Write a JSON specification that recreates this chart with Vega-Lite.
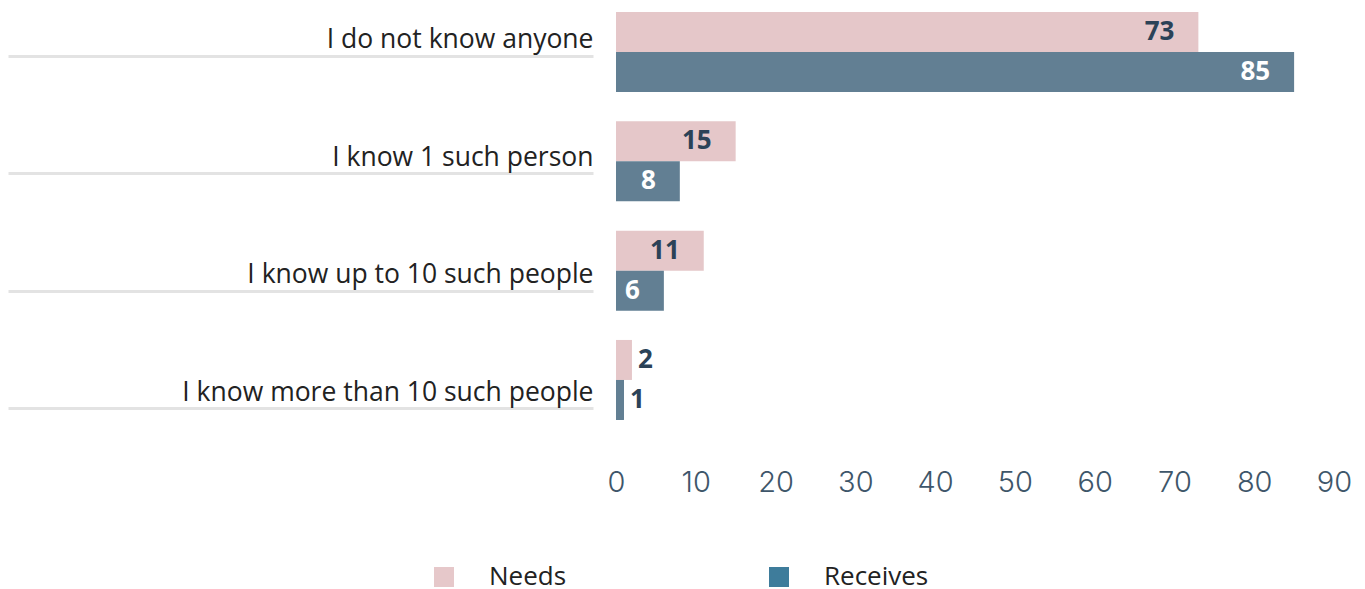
{
  "$schema": "https://vega.github.io/schema/vega-lite/v6.json",
  "width": 718,
  "height": 432,
  "autosize": {"type": "none"},
  "padding": {"left": 616, "right": 31, "top": 0, "bottom": 157},
  "background": "white",
  "config": {"view": {"stroke": null}},
  "data": {
    "values": [
      {"category": "I do not know anyone", "series": "Needs", "value": 73},
      {"category": "I do not know anyone", "series": "Receives", "value": 85},
      {"category": "I know 1 such person", "series": "Needs", "value": 15},
      {"category": "I know 1 such person", "series": "Receives", "value": 8},
      {"category": "I know up to 10 such people", "series": "Needs", "value": 11},
      {"category": "I know up to 10 such people", "series": "Receives", "value": 6},
      {"category": "I know more than 10 such people", "series": "Needs", "value": 2},
      {"category": "I know more than 10 such people", "series": "Receives", "value": 1}
    ]
  },
  "resolve": {"scale": {"y": "independent", "color": "independent"}},
  "layer": [
    {
      "encoding": {
        "y": {"field": "category", "type": "nominal", "sort": null, "axis": null,
              "scale": {"paddingInner": 0.268, "paddingOuter": 0.11}},
        "yOffset": {"field": "series", "type": "nominal", "sort": ["Needs", "Receives"],
                    "scale": {"paddingInner": 0, "paddingOuter": 0}},
        "x": {"field": "value", "type": "quantitative",
              "scale": {"domain": [0, 90], "nice": false},
              "axis": {"values": [0, 10, 20, 30, 40, 50, 60, 70, 80, 90], "title": null,
                       "domain": false, "ticks": false, "grid": false, "labelFlush": false,
                       "labelFont": "Inter", "labelFontWeight": 300, "labelFontSize": 29,
                       "labelColor": "#3e566a", "labelPadding": 36, "labelBaseline": "top"}}
      },
      "layer": [
        {
          "mark": {"type": "bar"},
          "encoding": {
            "color": {"field": "series", "type": "nominal", "sort": ["Needs", "Receives"],
                      "scale": {"domain": ["Needs", "Receives"], "range": ["#e5c7c9", "#627f93"]},
                      "legend": null}
          }
        },
        {
          "transform": [{"filter": "datum.value >= 5"}],
          "mark": {"type": "text", "align": "right", "baseline": "middle", "dx": -24,
                   "font": "Open Sans", "fontWeight": "bold", "fontSize": 26},
          "encoding": {
            "text": {"field": "value", "type": "quantitative"},
            "color": {"condition": {"test": "datum.series === 'Receives'", "value": "#ffffff"}, "value": "#2b4257"}
          }
        },
        {
          "transform": [{"filter": "datum.value < 5"}],
          "mark": {"type": "text", "align": "left", "baseline": "middle", "dx": 6,
                   "font": "Open Sans", "fontWeight": "bold", "fontSize": 26, "color": "#2b4257"},
          "encoding": {
            "text": {"field": "value", "type": "quantitative"}
          }
        }
      ]
    },
    {
      "transform": [{"filter": "datum.series === 'Needs'"}],
      "mark": {"type": "point", "filled": true, "size": 0, "strokeWidth": 0},
      "encoding": {
        "y": {"field": "category", "type": "nominal", "sort": null,
              "scale": {"type": "point", "padding": 0.34},
              "axis": {"orient": "left", "offset": 23, "title": null, "domain": false, "grid": false,
                       "ticks": true, "tickSize": 585, "tickColor": "#e3e3e3", "tickWidth": 3,
                       "tickOffset": 16, "labelOffset": -16, "labelPadding": -585,
                       "labelFont": "Open Sans", "labelFontSize": 26.5, "labelColor": "#222222",
                       "labelAlign": "right", "labelBaseline": "middle", "labelLimit": 1000}},
        "color": {"field": "series", "type": "nominal",
                  "scale": {"domain": ["Needs", "Receives"], "range": ["#e6c8ca", "#3e7c9b"]},
                  "legend": {"title": null, "orient": "none", "legendX": -185, "legendY": 564,
                             "direction": "horizontal", "symbolType": "square", "symbolSize": 400,
                             "symbolStrokeWidth": 0, "symbolOpacity": 1,
                             "labelFont": "Open Sans", "labelFontSize": 26,
                             "labelColor": "#222222", "labelOffset": 32, "columnPadding": 199,
                             "padding": 0}}
      }
    }
  ]
}
